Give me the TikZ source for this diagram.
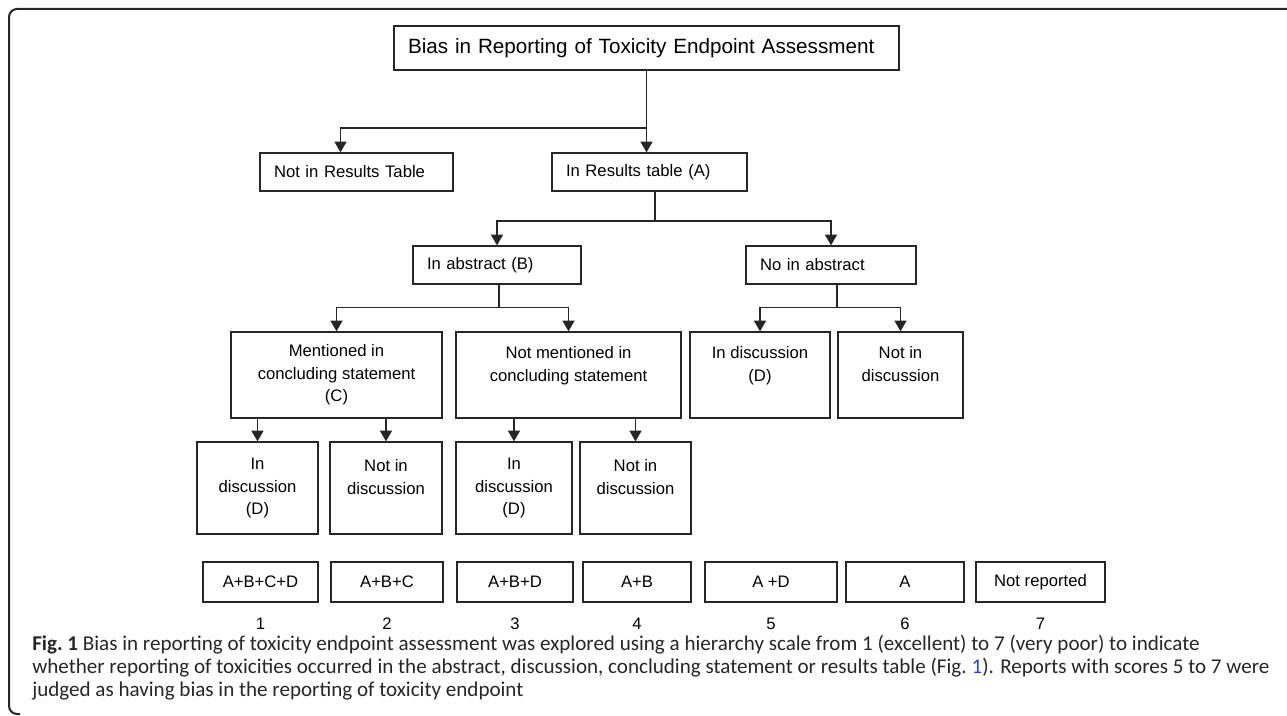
\documentclass[tikz,border=0pt]{standalone}
\usepackage{fontspec}
\setmainfont{Liberation Sans}
\newfontfamily\capfont{Carlito}
\usetikzlibrary{arrows.meta,positioning}
\definecolor{linkblue}{RGB}{45,70,215}

\begin{document}
\begin{tikzpicture}[
  x=0.75pt, y=-0.75pt,
  font=\fontsize{12.5}{17}\selectfont,
  box/.style n args={2}{draw=black!85, line width=1pt, minimum width=#1*0.75pt,
    minimum height=#2*0.75pt, inner sep=0pt, align=center},
  lbox/.style n args={2}{box={#1}{#2}, inner xsep=10.5pt, text width=#1*0.75pt-21pt, align=left},
  link/.style={draw=black!85, line width=1pt},
  arr/.style={link, -{Triangle[width=9pt,length=8pt]}}
]
\useasboundingbox (0,0) rectangle (1287,716);

% ---- frame ----
\draw[black!85, line width=1.5pt, rounded corners=6pt] (1287,9) -- (9,9) -- (9,714) -- (20,714);

% ---- top of the tree ----
\node[lbox={505}{44}, font=\fontsize{15.5}{18}\selectfont] (title) at (646.5,48)
  {Bias in Reporting of Toxicity Endpoint Assessment};
\node[lbox={193}{38}] (nres) at (356.5,172) {Not in Results Table};
\node[lbox={195}{38}] (ires) at (649.5,172) {In Results table (A)};
\node[lbox={168}{38}] (absB) at (497,265) {In abstract (B)};
\node[lbox={170}{38}] (noab) at (831,265) {No in abstract};

% ---- concluding statement / discussion ----
\node[box={211}{86}] (ment)  at (336.5,375) {Mentioned in\\concluding statement\\(C)};
\node[box={225}{86}] (nment) at (568.5,375) {Not mentioned in\\concluding statement\\\mbox{}};
\node[box={140}{86}] (indR)  at (760,375)   {In discussion\\(D)\\\mbox{}};
\node[box={125}{86}] (nindR) at (900.5,375) {Not in\\discussion\\\mbox{}};

\node[box={121}{92}] (ind1)  at (257.5,488) {In\\discussion\\(D)};
\node[box={112}{92}] (nind2) at (386,488)   {Not in\\discussion\\\mbox{}};
\node[box={116}{92}] (ind3)  at (514,488)   {In\\discussion\\(D)};
\node[box={111}{92}] (nind4) at (635.5,488) {Not in\\discussion\\\mbox{}};

% ---- connectors ----
\coordinate (j1) at ([yshift=-43pt]title.south);
\draw[link] (title.south) -- (j1);
\draw[arr] (j1) -| ([xshift=-12pt]nres.north);
\draw[arr] (j1) -- (j1 |- ires.north);

\coordinate (j2) at ([xshift=4pt,yshift=-22pt]ires.south);
\draw[link] ([xshift=4pt]ires.south) -- (j2);
\draw[arr] (j2) -| (absB.north);
\draw[arr] (j2) -| (noab.north);

\coordinate (j3) at ([xshift=1.5pt,yshift=-17pt]absB.south);
\draw[link] ([xshift=1.5pt]absB.south) -- (j3);
\draw[arr] (j3) -| (ment.north);
\draw[arr] (j3) -| (nment.north);

\coordinate (j4) at ([xshift=4.5pt,yshift=-17pt]noab.south);
\draw[link] ([xshift=4.5pt]noab.south) -- (j4);
\draw[arr] (j4) -| (indR.north);
\draw[arr] (j4) -| (nindR.north);

\draw[arr] (ment.south -| ind1.north) -- (ind1.north);
\draw[arr] (ment.south -| nind2.north) -- (nind2.north);
\draw[arr] (nment.south -| ind3.north) -- (ind3.north);
\draw[arr] (nment.south -| nind4.north) -- (nind4.north);

% ---- scores 1..7 ----
\foreach \i/\cx/\w/\lab in {1/260.5/115/A+B+C+D, 2/387/112/A+B+C, 3/515/116/A+B+D,
    4/637/108/A+B, 5/771/132/A +D, 6/905/118/A, 7/1040.5/129/Not reported}
{
  \node[box={\w}{40}] (s\i) at (\cx,582) {\lab};
  \node[below=11pt of s\i, inner sep=0pt] (n\i) {\i};
}

% ---- caption ----
\node[anchor=north west, align=left, inner sep=0pt, text=black!85,
  font=\capfont\fontsize{15.8}{17.3}\selectfont] (caption) at (32,635)
  {\textbf{Fig.~1} Bias in reporting of toxicity endpoint assessment was explored using a hierarchy scale from 1 (excellent) to 7 (very poor) to indicate\\
   whether reporting of toxicities occurred in the abstract, discussion, concluding statement or results table (Fig.~\textcolor{linkblue}{1}). Reports with scores 5 to 7 were\\
   judged as having bias in the reporting of toxicity endpoint};
\end{tikzpicture}
\end{document}
